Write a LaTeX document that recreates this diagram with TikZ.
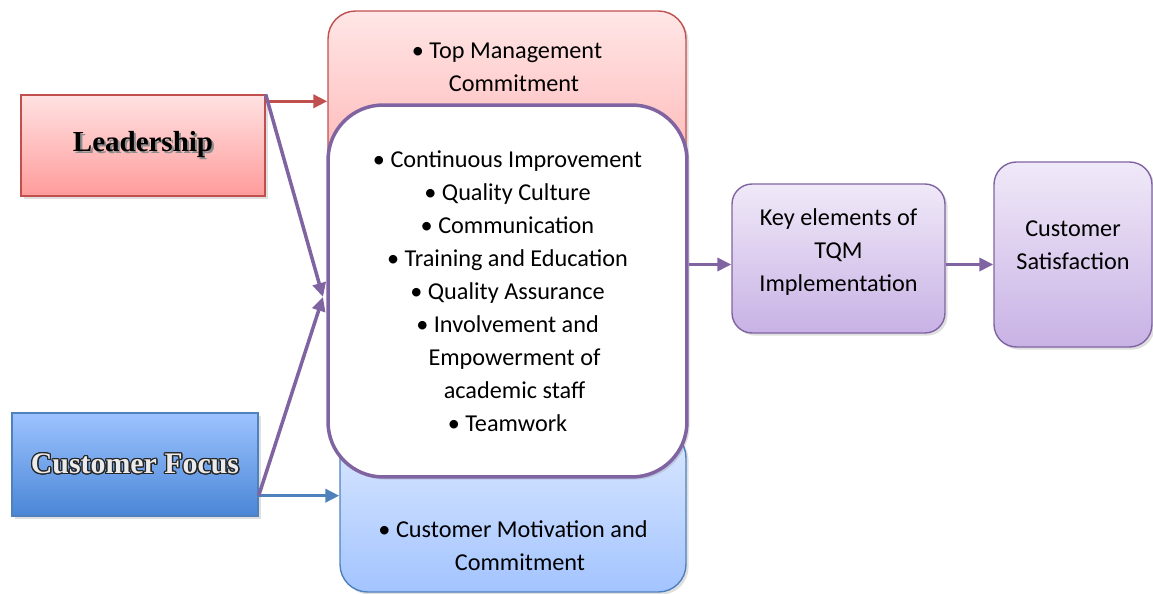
\documentclass[tikz,border=0pt]{standalone}
\usepackage{fontspec}
\setmainfont{Carlito}
\newfontfamily\headfont{Liberation Serif}
\usepackage{contour}
\contourlength{0.7pt}
\usetikzlibrary{arrows.meta,positioning,calc,shadows}
\definecolor{tqmred}{RGB}{192,80,77}
\definecolor{tqmblue}{RGB}{79,129,189}
\definecolor{tqmpurple}{RGB}{128,100,162}
\definecolor{redtop}{RGB}{255,226,226}
\definecolor{redbot}{RGB}{255,155,155}
\definecolor{pinktop}{RGB}{255,230,230}
\definecolor{pinkbot}{RGB}{255,180,180}
\definecolor{bluetop}{RGB}{157,195,255}
\definecolor{bluebot}{RGB}{74,134,214}
\definecolor{skytop}{RGB}{219,232,255}
\definecolor{skybot}{RGB}{163,196,255}
\definecolor{lilactop}{RGB}{240,233,248}
\definecolor{lilacbot}{RGB}{200,178,229}
\newcommand{\shadowtxt}[1]{\rlap{\hspace{1.2pt}\raisebox{-1.2pt}{\textcolor{black!45}{#1}}}#1}
\newcommand{\cont}{\hspace*{0.28cm}}

\begin{document}
\begin{tikzpicture}[x=0.02cm,y=-0.02cm,
      every node/.style={font=\fontsize{13.8}{18.8}\selectfont},
      box/.style={draw,line width=0.8pt,align=center,
        drop shadow={opacity=0.25,shadow xshift=1.5pt,shadow yshift=-1.5pt}},
      flow/.style={line width=2pt,-{Triangle[length=0.28cm,width=0.26cm]}}]
    \useasboundingbox (0,0) rectangle (1153,594);
    % Drivers
    \node[box,draw=tqmred,top color=redtop,bottom color=redbot,minimum width=4.88cm,minimum height=2.02cm] (lead) at (143,145.5)
      {\headfont\bfseries\fontsize{16.5}{20}\selectfont\shadowtxt{Leadership}};
    \node[box,draw=tqmblue,top color=bluetop,bottom color=bluebot,minimum width=4.92cm,minimum height=2.06cm] (cfoc) at (135,464.5)
      {\headfont\bfseries\fontsize{17}{20}\selectfont\contour{black!85}{\textcolor{white!92!black}{Customer Focus}}};
    % Back panels
    \node[box,draw=tqmred,top color=pinktop,bottom color=pinkbot,rounded corners=0.55cm,minimum width=7.16cm,minimum height=3.38cm] (topm) at (507,95.5) {};
    \node[box,draw=tqmblue,top color=skytop,bottom color=skybot,rounded corners=0.55cm,minimum width=6.92cm,minimum height=3.24cm] (cmot) at (513,511) {};
    \node[align=center] (topmtxt) at (507,67) {\textbullet\ Top Management\\\cont Commitment};
    \node[align=center] (cmottxt) at (513,546) {\textbullet\ Customer Motivation and\\\cont Commitment};
    % Core elements
    \node[box,draw=tqmpurple,line width=2pt,fill=white,rounded corners=1.1cm,minimum width=7.18cm,minimum height=7.44cm] (core) at (507.5,291)
      {\textbullet\ Continuous Improvement\\\textbullet\ Quality Culture\\\textbullet\ Communication\\\textbullet\ Training and Education\\
       \textbullet\ Quality Assurance\\\textbullet\ Involvement and\\\cont Empowerment of\\\cont academic staff\\\textbullet\ Teamwork};
    % Outcomes
    \node[box,draw=tqmpurple,top color=lilactop,bottom color=lilacbot,rounded corners=0.4cm,minimum width=4.26cm,minimum height=2.98cm] (key) at (838.5,258.5)
      {Key elements of\\TQM\\Implementation\\[-0.32cm]};
    \node[box,draw=tqmpurple,top color=lilactop,bottom color=lilacbot,rounded corners=0.45cm,minimum width=3.16cm,minimum height=3.7cm] (csat) at (1073,254.5)
      {Customer\\Satisfaction\\[-0.28cm]};
    % Connectors
    \coordinate (ltop) at ($(lead.north east)+(0,7)$);
    \coordinate (cbot) at ($(cfoc.south east)+(0,-21)$);
    \coordinate (meet) at (323,297);
    \draw[flow,tqmred] (ltop)--(ltop -| topm.west);
    \draw[flow,tqmblue] (cbot)--(cbot -| cmot.west);
    \draw[flow,tqmpurple] (lead.north east)--(meet);
    \draw[flow,tqmpurple] (cbot)--(meet);
    \draw[flow,tqmpurple] ($(key.west -| core.east)+(0,6)$)--($(key.west)+(0,6)$);
    \draw[flow,tqmpurple] ($(key.east)+(0,6)$)--($(key.east -| csat.west)+(0,6)$);
  \end{tikzpicture}
\end{document}
